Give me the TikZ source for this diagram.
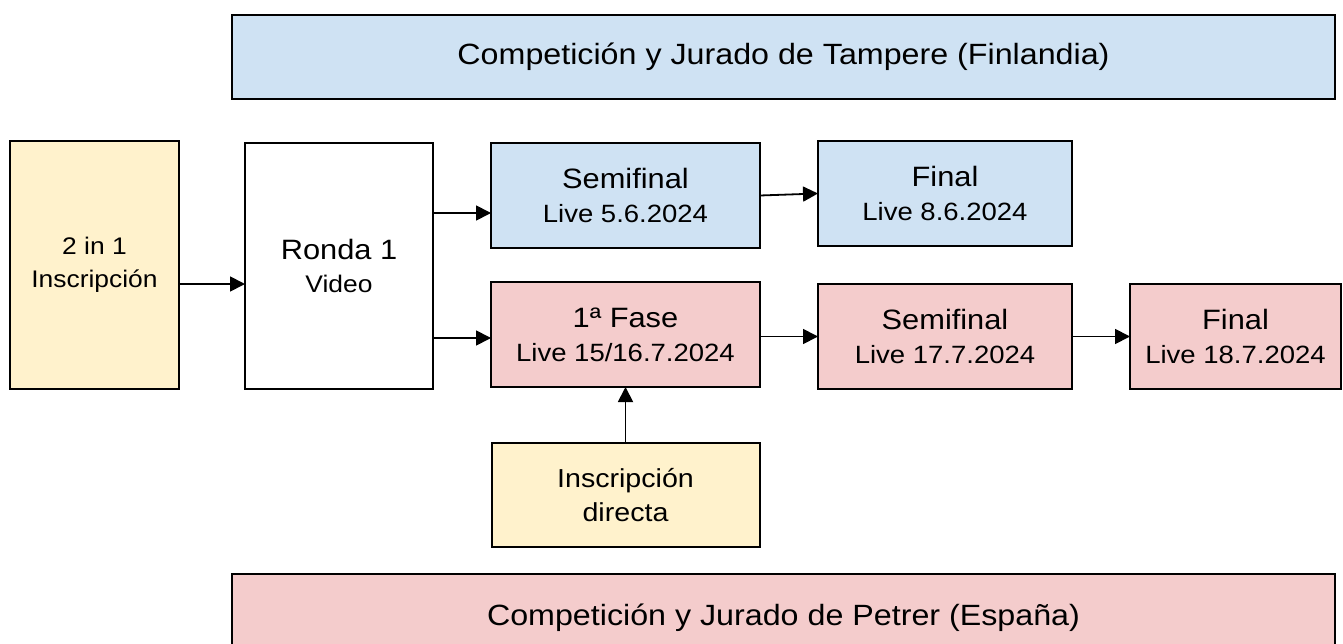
\documentclass[tikz,border=0pt]{standalone}
\usepackage{fontspec}
\setmainfont[FakeStretch=1.1]{Liberation Sans}
\usetikzlibrary{positioning,arrows.meta}

\definecolor{tampereblue}{HTML}{CFE2F3}
\definecolor{petrerred}{HTML}{F4CCCC}
\definecolor{entryyellow}{HTML}{FFF2CC}

\newcommand\bigtxt{\fontsize{28}{34}\selectfont}
\newcommand\livetxt{\fontsize{25}{34}\selectfont}
\newcommand\smalltxt{\fontsize{24}{33}\selectfont}

\begin{document}
\begin{tikzpicture}[x=1pt, y=-1pt,
					>={Triangle[length=15pt,width=15pt]},
					link/.style={->, line width=1.8pt},
					box/.style={draw, line width=2pt, align=center, inner sep=0pt, outer sep=0pt},
					tampere/.style={box, fill=tampereblue},
					petrer/.style={box, fill=petrerred},
					entry/.style={box, fill=entryyellow},
					stage/.style={minimum width=#1, minimum height=105pt},
					banner/.style={minimum width=1103pt, font=\fontsize{29.3}{34}\selectfont}]

  \useasboundingbox (0,0) rectangle (1343,644);

  % jury banners
  \node[tampere, banner, minimum height=84pt] (jurytampere) at (783.5,57) {Competición y Jurado de Tampere (Finlandia)};
  \node[petrer, banner, minimum height=88pt] (jurypetrer) at (783.5,618) {Competición y Jurado de Petrer (España)};

  % entry and first round
  \node[entry, minimum width=169pt, minimum height=247pt, font=\smalltxt] (insc2) at (94.5,265) {2 in 1\\Inscripción};
  \node[box, minimum width=188pt, minimum height=246pt, font=\smalltxt, right=66pt of insc2, yshift=-1pt] (ronda) {{\bigtxt Ronda 1}\\Video};

  % Tampere
  \node[tampere, stage=269pt, font=\livetxt, right=58pt of ronda.north east, anchor=north west] (semiT) {{\bigtxt Semifinal}\\Live 5.6.2024};
  \node[tampere, stage=254pt, font=\livetxt, right=58pt of semiT, yshift=2pt] (finalT) {{\bigtxt Final}\\Live 8.6.2024};

  % Petrer
  \node[petrer, stage=269pt, font=\livetxt, below=34pt of semiT] (fase) {{\bigtxt 1ª Fase}\\Live 15/16.7.2024};
  \node[petrer, stage=254pt, font=\livetxt, right=58pt of fase, yshift=-2pt] (semiP) {{\bigtxt Semifinal}\\Live 17.7.2024};
  \node[petrer, stage=211pt, font=\livetxt, right=58pt of semiP] (finalP) {{\bigtxt Final}\\Live 18.7.2024};
  \node[entry, minimum width=268pt, minimum height=104pt, font=\fontsize{26}{34}\selectfont, below=56pt of fase] (inscD) {Inscripción\\directa};

  \draw[link] ([yshift=-19pt]insc2.east) -- ([yshift=-19pt]insc2.east -| ronda.west);
  \draw[link] ([yshift=53pt]ronda.east) -- ([yshift=53pt]ronda.east -| semiT.west);
  \draw[link] ([yshift=-72pt]ronda.east) -- ([yshift=-72pt]ronda.east -| fase.west);
  \draw[link] (semiT.east) -- (finalT.west);
  \draw[link] (semiP.west -| fase.east) -- (semiP.west);
  \draw[link] (semiP.east) -- (finalP.west);
  \draw[link] (inscD) -- (fase);
\end{tikzpicture}
\end{document}
